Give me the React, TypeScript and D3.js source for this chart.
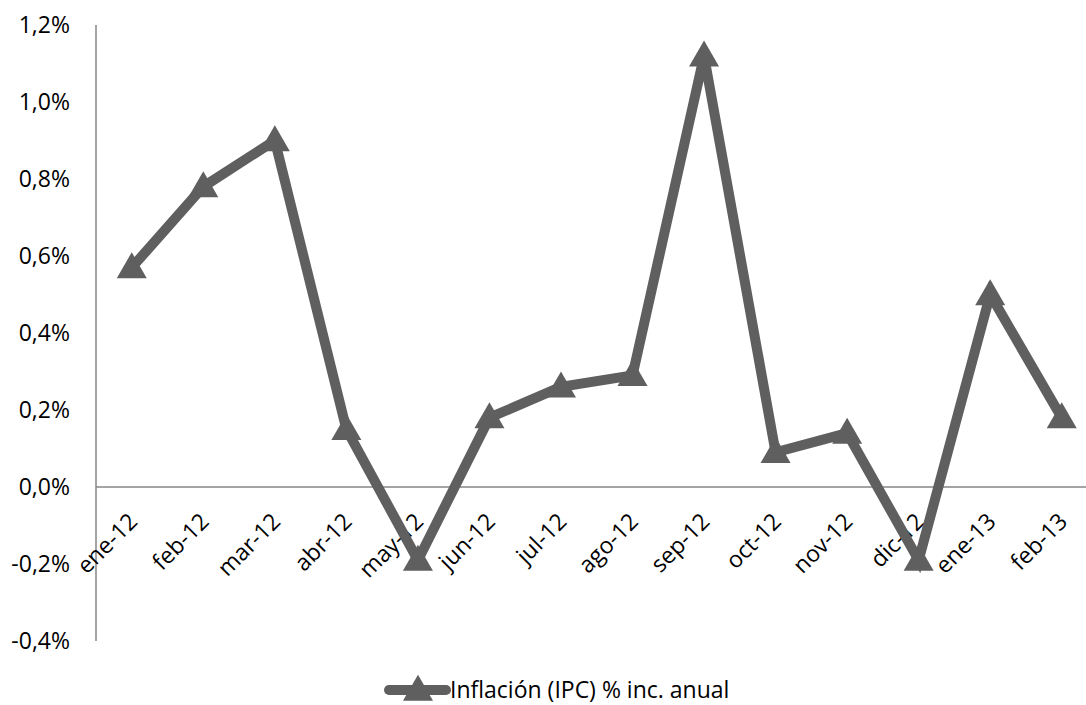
import React from "react";
import * as d3 from "d3";

const categories = ["ene-12","feb-12","mar-12","abr-12","may-12","jun-12","jul-12","ago-12","sep-12","oct-12","nov-12","dic-12","ene-13","feb-13"];
const values = [0.57,0.78,0.90,0.15,-0.19,0.18,0.26,0.29,1.12,0.09,0.14,-0.19,0.50,0.18];
const yTicks = [-0.4,-0.2,0,0.2,0.4,0.6,0.8,1.0,1.2];
const seriesName = "Inflación (IPC) % inc. anual";

const W = 1086, H = 705;
const FONT = "'Open Sans', sans-serif";
const LINE = "#5f5f5f";
const AXIS = "#868686";

export default function App() {
  const x = d3.scaleBand<string>().domain(categories).range([96, 1097.5]);
  const y = d3.scaleLinear().domain([-0.4, 1.2]).range([641, 25]);
  const cx = (c: string) => (x(c) as number) + x.bandwidth() / 2;
  const line = d3.line<number>().x((_, i) => cx(categories[i])).y(d => y(d));
  const tri = d3.symbol().type(d3.symbolTriangle).size(390)();
  const fmt = (v: number) => v.toFixed(1).replace(".", ",") + "%";
  return (
    <svg width={W} height={H} style={{ position: "absolute", left: 0, top: 0 }}>
      <rect width={W} height={H} fill="white" />
      <line x1={96} x2={96} y1={y(1.2)} y2={y(-0.4)} stroke={AXIS} strokeWidth={1.5} />
      <line x1={96} x2={1097.5} y1={y(0)} y2={y(0)} stroke={AXIS} strokeWidth={1.5} />
      {yTicks.map(t => (
        <text key={t} x={70} y={y(t)} dy="0.36em" textAnchor="end" fontFamily={FONT} fontSize={23} fill="#000">{fmt(t)}</text>
      ))}
      {categories.map(c => (
        <text key={c} transform={`translate(${cx(c) + 7},${y(0) + 36}) rotate(-45)`} textAnchor="end" fontFamily={FONT} fontSize={23} fill="#000">{c}</text>
      ))}
      <path d={line(values) || ""} fill="none" stroke={LINE} strokeWidth={10} strokeLinejoin="miter" />
      {values.map((v, i) => (
        <path key={i} d={tri || ""} transform={`translate(${cx(categories[i])},${y(v) + 2})`} fill={LINE} />
      ))}
      <g>
        <line x1={389} x2={446} y1={690} y2={690} stroke={LINE} strokeWidth={10} strokeLinecap="round" />
        <path d={tri || ""} transform="translate(418,692)" fill={LINE} />
        <text x={450} y={690} dy="0.36em" fontFamily={FONT} fontSize={23} fill="#000">{seriesName}</text>
      </g>
    </svg>
  );
}
